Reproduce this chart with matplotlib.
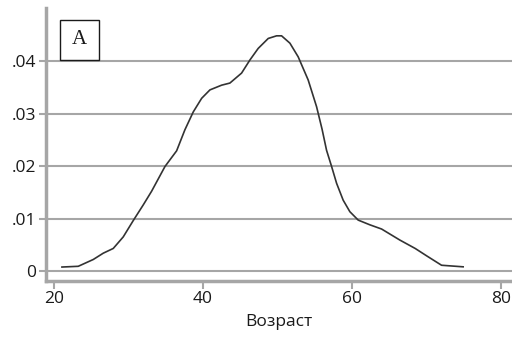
import matplotlib
matplotlib.use("Agg")
import matplotlib.pyplot as plt
from matplotlib.patches import Rectangle

age = [21.07, 23.26, 25.28, 26.62, 27.96, 29.30, 30.64, 31.99, 33.11, 34.9, 36.47,
       37.58, 38.7, 39.83, 40.94, 42.51, 43.62, 45.19, 46.31, 47.42, 48.77, 49.89,
       50.56, 51.68, 52.79, 54.13, 55.26, 56.0, 56.6, 57.28, 57.95, 58.83, 59.73,
       60.85, 62.42, 63.99, 66.44, 68.5, 70.03, 72.04, 74.94]
density = [0.00076, 0.0009, 0.0022, 0.0034, 0.0043, 0.0065, 0.0096, 0.0126, 0.0152,
           0.0199, 0.0229, 0.0269, 0.0303, 0.0329, 0.0345, 0.0354, 0.0358, 0.0377,
           0.0402, 0.0424, 0.0443, 0.0448, 0.0448, 0.0434, 0.0408, 0.0364, 0.0313,
           0.0270, 0.0230, 0.0199, 0.0167, 0.0135, 0.0113, 0.0097, 0.0088, 0.0080,
           0.0059, 0.0043, 0.0029, 0.0011, 0.0008]
yticks = [0, 0.01, 0.02, 0.03, 0.04]
ytick_labels = ["0", ".01", ".02", ".03", ".04"]
xticks = [20, 40, 60, 80]
xlabel = "Возраст"
panel = "A"

plt.rcParams['font.family'] = ['Open Sans', 'DejaVu Sans']
fig = plt.figure(figsize=(5.12, 3.4), dpi=100)
ax = fig.add_axes([46/512, 1-281/340, 466/512, 273/340])
gray = "#a6a6a6"
ax.plot(age, density, color="#333333", lw=1.2, solid_joinstyle="round")
ax.set_xlim(18.93, 81.5)
ax.set_ylim(-0.0019, 0.0501)
ax.set_yticks(yticks)
ax.set_yticklabels(ytick_labels)
ax.set_xticks(xticks)
for y in yticks:
    ax.axhline(y, color=gray, lw=1.5, zorder=0)
for s in ["top", "right"]:
    ax.spines[s].set_visible(False)
for s in ["left", "bottom"]:
    ax.spines[s].set_color(gray)
    ax.spines[s].set_linewidth(2.5)
ax.tick_params(axis="both", colors=gray, labelcolor="#1a1a1a", labelsize=12.5, width=1.5)
ax.tick_params(axis="y", length=5, pad=2)
ax.tick_params(axis="x", length=6, pad=1)
ax.set_xlabel(xlabel, fontsize=12.5, color="#1a1a1a", labelpad=5)
ax.add_patch(Rectangle((14/466, 1-60/273+8/273), 39/466, 40/273, transform=ax.transAxes,
                       fill=False, ec="#1a1a1a", lw=1, clip_on=False))
ax.text((14+19.5)/466, 1-(40-8)/273, panel, transform=ax.transAxes, ha="center", va="center",
        family="Liberation Serif", fontsize=15, color="#1a1a1a")
fig.savefig("out.png", dpi=100)
